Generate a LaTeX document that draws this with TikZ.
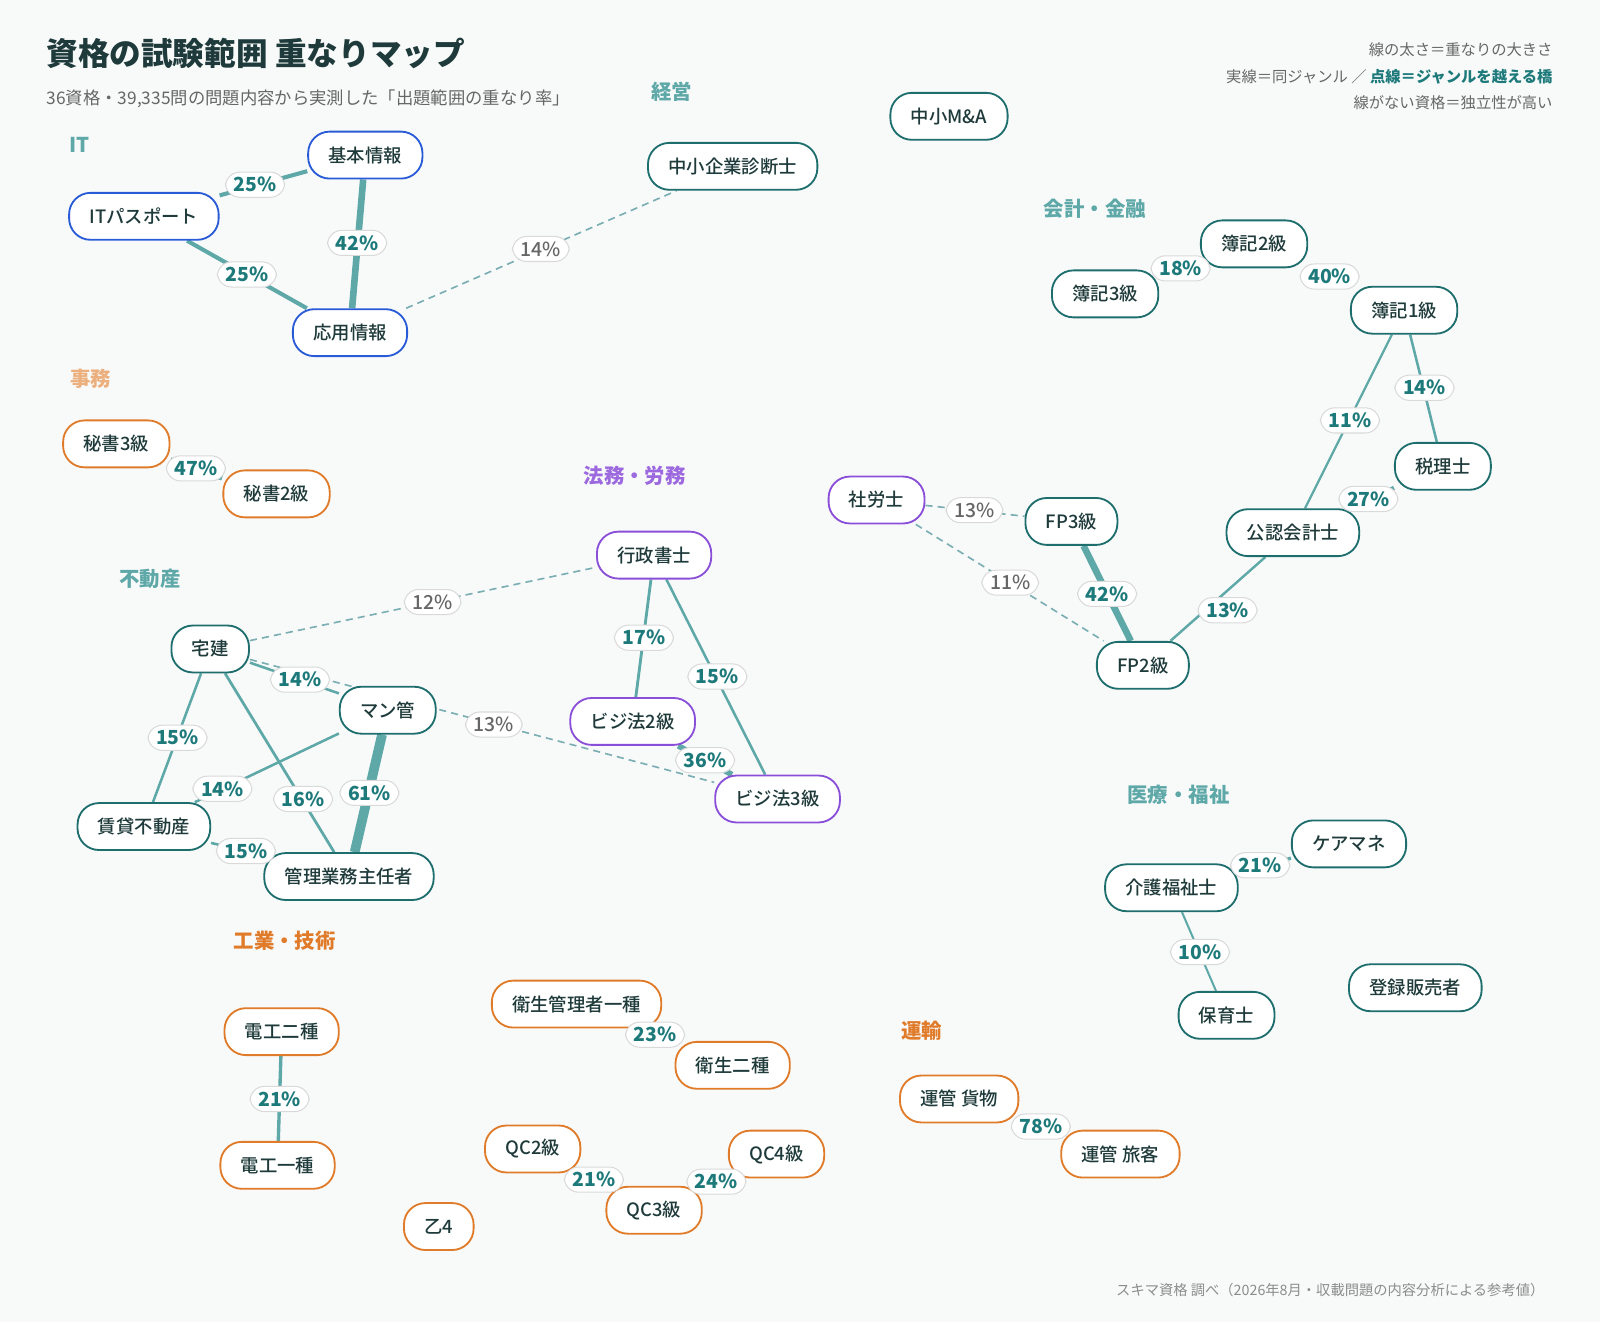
\documentclass[tikz,border=0pt]{standalone}
\usepackage{fontspec}
\setmainfont{Noto Sans CJK JP}
\newfontfamily\med{Noto Sans CJK JP Medium}
\usetikzlibrary{calc}
\pgfdeclarelayer{bg}\pgfdeclarelayer{fg}
\pgfsetlayers{bg,main,fg}
\definecolor{ink}{HTML}{1F3A3A}
\definecolor{cblue}{HTML}{2A5BD7}
\definecolor{cteal}{HTML}{1E6E6E}
\definecolor{corange}{HTML}{E07B2A}
\definecolor{cpurple}{HTML}{8A4FD8}
\definecolor{edge}{HTML}{5FA8A8}
\definecolor{dedge}{HTML}{7AAEB2}
\definecolor{pct}{HTML}{1E7A7A}
\definecolor{paper}{HTML}{F8FAFA}
\tikzset{
 q/.style={draw=#1,line width=1.8pt,fill=white,rounded corners=21pt,minimum height=46pt,inner xsep=20pt,text=ink,font=\med\fontsize{18}{20}\selectfont},
 e/.style={draw=edge,line width=#1},
 d/.style={draw=dedge,line width=1.6pt,dash pattern=on 7pt off 5pt},
 lb/.style={draw=black!15,line width=1pt,fill=white,rounded corners=14pt,inner xsep=8pt,inner ysep=5pt,text=pct,font=\bfseries\fontsize{19}{21}\selectfont},
 lbd/.style={lb,text=black!60,font=\med\fontsize{19}{21}\selectfont},
 g/.style={font=\bfseries\fontsize{20}{22}\selectfont,text=#1},
}
\newcommand\E[6]{\begin{pgfonlayer}{bg}\draw[e=#3pt] (#1) -- (#2);\end{pgfonlayer}\begin{pgfonlayer}{fg}\node[lb] (L#1#2) at (#4,#5) {#6\%};\end{pgfonlayer}}
\newcommand\D[6]{\begin{pgfonlayer}{bg}\draw[d] (#1) -- (#2);\end{pgfonlayer}\begin{pgfonlayer}{fg}\node[lbd] (L#1#2) at (#4,#5) {#6\%};\end{pgfonlayer}}
\begin{document}
\begin{tikzpicture}[x=1pt,y=-1pt]
\begin{pgfonlayer}{bg}
\fill[paper] (0,0) rectangle (1568,1296);
\end{pgfonlayer}
\useasboundingbox (0,0) rectangle (1568,1296);
% titles
\node[anchor=west,font=\bfseries\fontsize{31}{33}\selectfont,text=ink] (title) at (42,52) {資格の試験範囲 重なりマップ};
\node[anchor=west,font=\fontsize{17}{19}\selectfont,text=black!60] (sub) at (42,97) {36資格・39,335問の問題内容から実測した「出題範囲の重なり率」};
\node[anchor=east,font=\fontsize{15}{17}\selectfont,text=black!60] (l1) at (1525,49) {線の太さ＝重なりの大きさ};
\node[anchor=east,font=\fontsize{15}{17}\selectfont,text=black!60] (l2) at (1525,75) {実線＝同ジャンル ／ \textcolor{pct}{\bfseries 点線＝ジャンルを越える橋}};
\node[anchor=east,font=\fontsize{15}{17}\selectfont,text=black!60] (l3) at (1525,101) {線がない資格＝独立性が高い};
\node[anchor=east,font=\fontsize{14}{16}\selectfont,text=black!45] (foot) at (1517,1264) {スキマ資格 調べ（2026年8月・収載問題の内容分析による参考値）};
% genres
\node[g=edge] (gIT) at (78,142) {IT};
\node[g=edge] (gK) at (658,90) {経営};
\node[g=edge] (gA) at (1073,205) {会計・金融};
\node[g=corange!60] (gJ) at (89,371) {事務};
\node[g=cpurple!85] (gH) at (622,466) {法務・労務};
\node[g=edge] (gF) at (147,567) {不動産};
\node[g=edge] (gM) at (1155,779) {医療・福祉};
\node[g=corange] (gT) at (279,922) {工業・技術};
\node[g=corange] (gU) at (903,1010) {運輸};
% nodes
\node[q=cblue] (kihon) at (358,152) {基本情報};
\node[q=cblue] (itp) at (141,212) {ITパスポート};
\node[q=cblue] (oyo) at (343,326) {応用情報};
\node[q=cteal] (shindan) at (718,163) {中小企業診断士};
\node[q=cteal] (ma) at (930,114) {中小M\&A};
\node[q=cteal] (b2) at (1229,239) {簿記2級};
\node[q=cteal] (b3) at (1083,288) {簿記3級};
\node[q=cteal] (b1) at (1376,304) {簿記1級};
\node[q=cteal] (zei) at (1414,457) {税理士};
\node[q=cteal] (cpa) at (1267,522) {公認会計士};
\node[q=cpurple] (sha) at (859,490) {社労士};
\node[q=cteal] (fp3) at (1050,511) {FP3級};
\node[q=cteal] (fp2) at (1120,652) {FP2級};
\node[q=corange] (hi3) at (114,435) {秘書3級};
\node[q=corange] (hi2) at (271,484) {秘書2級};
\node[q=cpurple] (gyo) at (641,544) {行政書士};
\node[q=cteal] (tak) at (206,636) {宅建};
\node[q=cteal] (man) at (380,696) {マン管};
\node[q=cpurple] (bj2) at (620,707) {ビジ法2級};
\node[q=cpurple] (bj3) at (762,783) {ビジ法3級};
\node[q=cteal] (chin) at (141,810) {賃貸不動産};
\node[q=cteal] (kan) at (342,859) {管理業務主任者};
\node[q=cteal] (care) at (1322,827) {ケアマネ};
\node[q=cteal] (kaigo) at (1148,870) {介護福祉士};
\node[q=cteal] (hoiku) at (1202,995) {保育士};
\node[q=cteal] (toroku) at (1387,968) {登録販売者};
\node[q=corange] (dd) at (276,1011) {電工二種};
\node[q=corange] (di) at (272,1142) {電工一種};
\node[q=corange] (ei) at (565,984) {衛生管理者一種};
\node[q=corange] (ee) at (718,1044) {衛生二種};
\node[q=corange] (uk) at (940,1077) {運管 貨物};
\node[q=corange] (ur) at (1098,1131) {運管 旅客};
\node[q=corange] (qb) at (522,1126) {QC2級};
\node[q=corange] (qd) at (761,1131) {QC4級};
\node[q=corange] (qc) at (641,1186) {QC3級};
\node[q=corange] (otsu) at (430,1202) {乙4};
% edges
\E{itp}{kihon}{4}{250}{181}{25}
\E{itp}{oyo}{4}{242}{269}{25}
\E{kihon}{oyo}{6.5}{350}{238}{42}
\D{oyo}{shindan}{}{530}{244}{14}
\E{b3}{b2}{3}{1157}{263}{18}
\E{b2}{b1}{6}{1303}{271}{40}
\E{b1}{cpa}{2.2}{1323}{412}{11}
\E{b1}{zei}{2.5}{1396}{380}{14}
\E{zei}{cpa}{4.2}{1341}{489}{27}
\E{cpa}{fp2}{2.4}{1203}{598}{13}
\D{sha}{fp3}{}{955}{500}{13}
\D{sha}{fp2}{}{990}{571}{11}
\E{fp3}{fp2}{6.5}{1085}{582}{42}
\E{hi3}{hi2}{7}{192}{459}{47}
\D{tak}{gyo}{}{424}{590}{12}
\E{tak}{man}{2.5}{294}{666}{14}
\D{tak}{bj3}{}{484}{710}{13}
\E{tak}{chin}{2.5}{174}{723}{15}
\E{tak}{kan}{2.7}{297}{783}{16}
\E{man}{chin}{2.5}{218}{773}{14}
\E{man}{kan}{9.5}{362}{777}{61}
\E{chin}{kan}{2.5}{241}{834}{15}
\E{gyo}{bj2}{2.8}{631}{625}{17}
\E{gyo}{bj3}{2.5}{703}{663}{15}
\E{bj2}{bj3}{5.5}{691}{745}{36}
\E{care}{kaigo}{3.3}{1235}{848}{21}
\E{kaigo}{hoiku}{2}{1176}{933}{10}
\E{dd}{di}{3.3}{274}{1077}{21}
\E{ei}{ee}{3.6}{642}{1014}{23}
\E{uk}{ur}{11}{1020}{1104}{78}
\E{qb}{qc}{3.3}{582}{1156}{21}
\E{qc}{qd}{3.7}{702}{1158}{24}
\end{tikzpicture}
\end{document}
